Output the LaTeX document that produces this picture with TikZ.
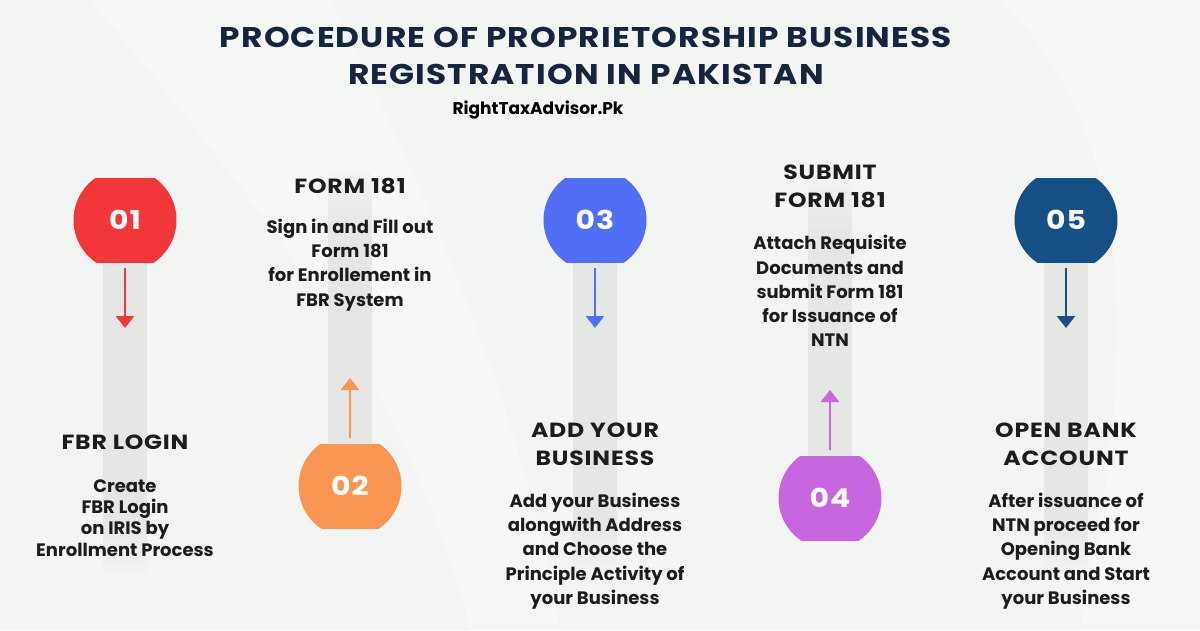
\documentclass[tikz,border=0pt]{standalone}
\usepackage{fontspec}
\setmainfont{Poppins}
\usetikzlibrary{positioning, arrows.meta}

\definecolor{bgcol}{RGB}{242,245,242}
\definecolor{barcol}{RGB}{228,231,228}
\definecolor{titlecol}{RGB}{21,37,62}
\definecolor{txtcol}{RGB}{28,28,28}
\definecolor{stepa}{RGB}{241,55,58}
\definecolor{stepb}{RGB}{250,150,84}
\definecolor{stepc}{RGB}{80,110,246}
\definecolor{stepd}{RGB}{200,102,224}
\definecolor{stepe}{RGB}{22,78,134}

\newcommand{\wide}{\addfontfeature{FakeStretch=1.15,LetterSpace=4}}

\begin{document}
\begin{tikzpicture}[x=1pt, y=-1pt,
  badge/.style={minimum width=103pt, minimum height=84pt, inner sep=0pt, text=white,
                font=\fontsize{26}{30}\selectfont\bfseries\wide,
                path picture={\fill[#1] (path picture bounding box.center) circle (51.5pt);}},
  head/.style={align=center, text=txtcol, inner sep=0pt,
               font=\fontsize{20.5}{28}\selectfont\bfseries\wide},
  body/.style={align=center, text=txtcol, inner sep=0pt,
               font=\fontsize{18}{24.2}\selectfont\bfseries},
  arrow/.style={-{Triangle[width=18pt, length=12pt]}, line width=2.6pt, draw=#1},
  bar/.style={fill=barcol}
]
\useasboundingbox (0,0) rectangle (1200,630);
% background
\fill[bgcol] (0,0) rectangle (1200,630);
\begin{scope}
  \clip (0,0) rectangle (1200,630);
  \fill[white, opacity=0.3] (90,0) .. controls (300,250) and (420,420) .. (470,630)
    -- (560,630) .. controls (520,400) and (430,200) .. (330,0) -- cycle;
  \fill[white, opacity=0.3] (1000,0) .. controls (1120,120) and (1150,300) .. (1080,630)
    -- (1200,630) -- (1200,0) -- cycle;
\end{scope}

% title
\node[align=center, text=titlecol, font=\fontsize{28.5}{37}\selectfont\bfseries\wide] (title) at (586,56)
  {PROCEDURE OF PROPRIETORSHIP BUSINESS\\REGISTRATION IN PAKISTAN};
\node[font=\fontsize{17}{20}\selectfont\bfseries] (site) at (538,110) {RightTaxAdvisor.Pk};

% grey bars behind the steps
\fill[bar] (103,260) rectangle (147,520);
\shade[top color=barcol, bottom color=bgcol] (103,519) rectangle (147,580);
\fill[bar] (328,230) rectangle (372,446);
\shade[top color=bgcol, bottom color=barcol] (328,170) rectangle (372,231);
\fill[bar] (573,260) rectangle (617,520);
\shade[top color=barcol, bottom color=bgcol] (573,519) rectangle (617,580);
\fill[bar] (808,230) rectangle (852,458);
\shade[top color=bgcol, bottom color=barcol] (808,170) rectangle (852,231);
\fill[bar] (1044,260) rectangle (1088,520);
\shade[top color=barcol, bottom color=bgcol] (1044,519) rectangle (1088,580);

% step badges
\node[badge=stepa] (c1) at (125,220) {01};
\node[badge=stepb] (c2) at (350,486) {02};
\node[badge=stepc] (c3) at (595,220) {03};
\node[badge=stepd] (c4) at (830,498) {04};
\node[badge=stepe] (c5) at (1066,220) {05};

% arrow ends
\coordinate (t1) at (125,328);
\coordinate (t2) at (350,378);
\coordinate (t3) at (595,328);
\coordinate (t4) at (830,390);
\coordinate (t5) at (1066,328);

\draw[arrow=stepa] ([yshift=-6pt]c1.south) -- (t1);
\draw[arrow=stepb] ([yshift=6pt]c2.north) -- (t2);
\draw[arrow=stepc] ([yshift=-6pt]c3.south) -- (t3);
\draw[arrow=stepd] ([yshift=6pt]c4.north) -- (t4);
\draw[arrow=stepe] ([yshift=-6pt]c5.south) -- (t5);

% headings
\node[head] (h1) at (125,442) {FBR LOGIN};
\node[head] (h2) at (350,186) {FORM 181};
\node[head] (h3) at (595,444) {ADD YOUR\\BUSINESS};
\node[head] (h4) at (830,186) {SUBMIT\\FORM 181};
\node[head] (h5) at (1066,444) {OPEN BANK\\ACCOUNT};

% descriptions
\node[body, font=\fontsize{18}{21.3}\selectfont\bfseries] (d1) at (125,518)
  {Create\\FBR Login\\on IRIS by\\Enrollment Process};
\node[body] (d2) at (350,265) {Sign in and Fill out\\Form 181\\for Enrollement in\\FBR System};
\node[body] (d3) at (595,551) {Add your Business\\alongwith Address\\and Choose the\\Principle Activity of\\your Business};
\node[body] (d4) at (830,291) {Attach Requisite\\Documents and\\submit Form 181\\for Issuance of\\NTN};
\node[body] (d5) at (1066,551) {After issuance of\\NTN proceed for\\Opening Bank\\Account and Start\\your Business};
\end{tikzpicture}
\end{document}
